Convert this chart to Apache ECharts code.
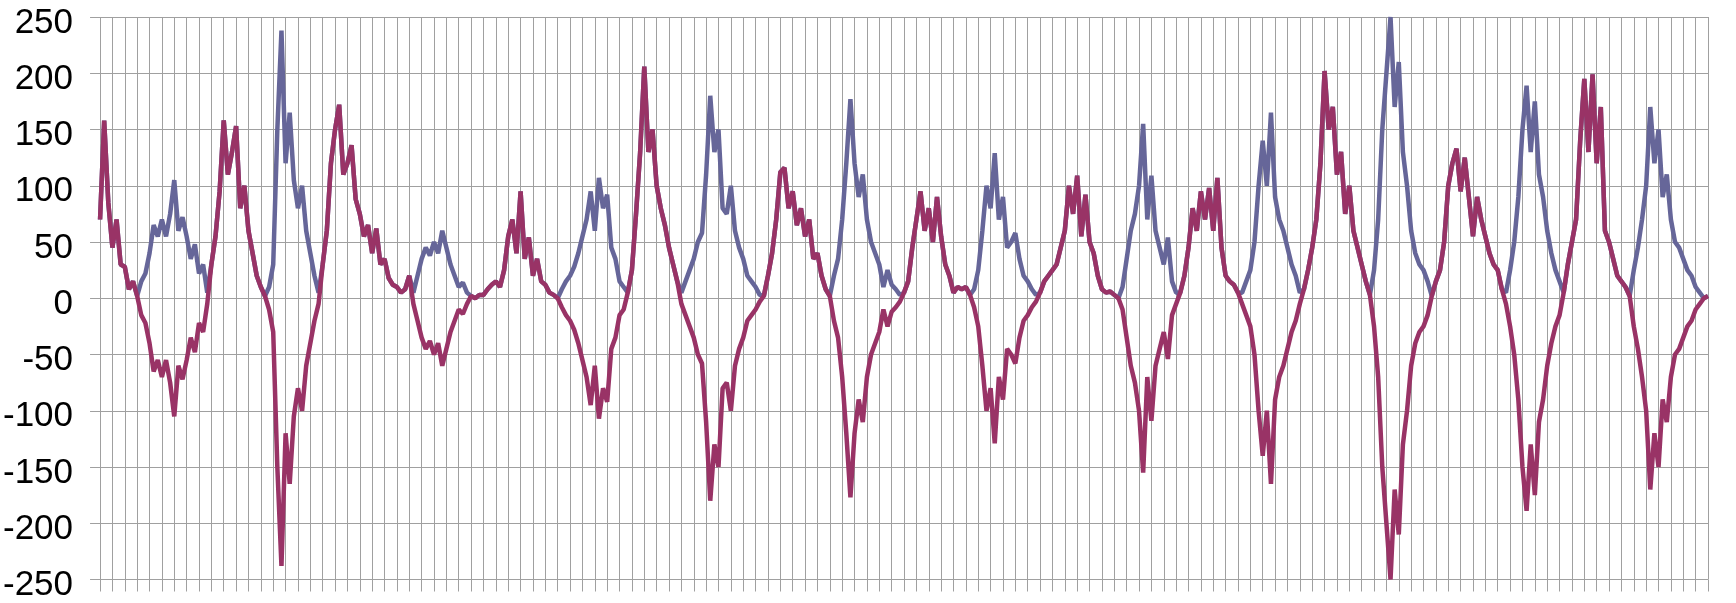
<!DOCTYPE html>
<html>
<head>
<meta charset="utf-8">
<script src="https://cdn.jsdelivr.net/npm/echarts@6/dist/echarts.min.js"></script>
<style>
html,body{margin:0;padding:0;background:#fff;}
#chart{width:1736px;height:603px;}
</style>
</head>
<body>
<div id="chart"></div>
<script>
// Series values (3 samples per gridline interval)
var seriesMagenta = [
70,158,85, 45,70,30, 28,8,15, 2,-15,-22, -40,-65,-55, -70,-55,-75, -105,-60,-72, -55,-35,-48, -22,-30,-5, 30,55,95,
158,110,130, 153,80,100, 60,40,20, 10,2,-10, -30,-150,-238, -120,-165,-105, -80,-100,-60, -40,-20,-5, 30,60,120, 150,172,110,
120,136,88, 75,55,65, 40,62,30, 35,18,12, 10,5,8, 20,-5,-20, -35,-45,-38, -50,-40,-60, -45,-30,-20, -10,-14,-5,
2,0,3, 3,8,12, 15,10,25, 55,70,40, 95,35,54, 20,35,15, 12,5,3, 0,-8,-15, -20,-28,-40, -55,-70,-95,
-60,-107,-80, -92,-45,-35, -15,-10,5, 25,75,130, 206,130,150, 100,80,65, 45,30,15, -5,-15,-25, -35,-50,-58, -110,-180,-130,
-150,-80,-75, -100,-60,-45, -35,-20,-15, -10,-3,2, 20,40,70, 112,116,80, 95,65,80, 55,70,35, 40,20,8, 2,-20,-35,
-70,-120,-177, -120,-90,-110, -70,-50,-40, -30,-10,-25, -12,-8,-3, 5,15,45, 70,95,60, 80,50,90, 55,30,20, 5,10,8,
10,3,-8, -25,-60,-100, -80,-129,-70, -90,-45,-50, -58,-35,-20, -15,-8,-3, 5,15,20, 25,30,45, 60,100,75, 109,55,92,
50,40,20, 8,5,6, 3,0,-10, -35,-60,-75, -100,-155,-70, -109,-60,-45, -30,-54,-15, -5,5,20, 45,80,60, 95,70,98,
60,107,45, 20,15,12, 5,-5,-15, -25,-50,-100, -140,-100,-165, -90,-70,-60, -45,-30,-20, -5,8,25, 45,70,120, 202,150,170,
110,130,75, 100,60,45, 30,15,3, -25,-70,-150, -200,-250,-170, -210,-130,-100, -60,-40,-30, -25,-15,2, 15,25,50, 100,120,133,
95,125,90, 55,90,70, 55,40,30, 25,8,-5, -25,-50,-90, -150,-189,-130, -175,-110,-90, -60,-40,-25, -15,5,30, 50,70,140,
195,130,199, 120,170,60, 50,35,20, 15,10,2, -25,-45,-70, -100,-170,-120, -150,-90,-110, -70,-50,-45, -35,-25,-20, -10,-5,0,
2
];
var seriesBlue = [
70,158,85, 45,70,30, 28,8,15, 2,15,22, 40,65,55, 70,55,75, 105,60,72, 55,35,48, 22,30,5, 30,55,95,
158,110,130, 153,80,100, 60,40,20, 10,2,10, 30,150,238, 120,165,105, 80,100,60, 40,20,5, 30,60,120, 150,172,110,
120,136,88, 75,55,65, 40,62,30, 35,18,12, 10,5,8, 20,5,20, 35,45,38, 50,40,60, 45,30,20, 10,14,5,
2,0,3, 3,8,12, 15,10,25, 55,70,40, 95,35,54, 20,35,15, 12,5,3, 0,8,15, 20,28,40, 55,70,95,
60,107,80, 92,45,35, 15,10,5, 25,75,130, 206,130,150, 100,80,65, 45,30,15, 5,15,25, 35,50,58, 110,180,130,
150,80,75, 100,60,45, 35,20,15, 10,3,2, 20,40,70, 112,116,80, 95,65,80, 55,70,35, 40,20,8, 2,20,35,
70,120,177, 120,90,110, 70,50,40, 30,10,25, 12,8,3, 5,15,45, 70,95,60, 80,50,90, 55,30,20, 5,10,8,
10,3,8, 25,60,100, 80,129,70, 90,45,50, 58,35,20, 15,8,3, 5,15,20, 25,30,45, 60,100,75, 109,55,92,
50,40,20, 8,5,6, 3,0,10, 35,60,75, 100,155,70, 109,60,45, 30,54,15, 5,5,20, 45,80,60, 95,70,98,
60,107,45, 20,15,12, 5,5,15, 25,50,100, 140,100,165, 90,70,60, 45,30,20, 5,8,25, 45,70,120, 202,150,170,
110,130,75, 100,60,45, 30,15,3, 25,70,150, 200,250,170, 210,130,100, 60,40,30, 25,15,2, 15,25,50, 100,120,133,
95,125,90, 55,90,70, 55,40,30, 25,8,5, 25,50,90, 150,189,130, 175,110,90, 60,40,25, 15,5,30, 50,70,140,
195,130,199, 120,170,60, 50,35,20, 15,10,2, 25,45,70, 100,170,120, 150,90,110, 70,50,45, 35,25,20, 10,5,0,
2
];
// Category indices for the samples
var categories = seriesMagenta.map(function (_, i) { return String(i + 1); });
// Y tick settings
var yMin = -250, yMax = 250, yStep = 50;
// Vertical gridline count
var gridIntervals = 130;

var chart = echarts.init(document.getElementById('chart'), null, {renderer: 'canvas'});
var gridColor = '#a0a0a0';
chart.setOption({
  animation: false,
  backgroundColor: '#ffffff',
  grid: {left: 100, right: 28, top: 17, bottom: 23, containLabel: false},
  xAxis: [
    {
      type: 'category', data: categories, boundaryGap: false, show: false
    },
    {
      type: 'value', min: 0, max: gridIntervals, interval: 1, position: 'bottom',
      axisLine: {show: false},
      axisTick: {show: true, length: 12, lineStyle: {color: gridColor, width: 1}},
      axisLabel: {show: false},
      splitLine: {show: true, lineStyle: {color: gridColor, width: 1}}
    }
  ],
  yAxis: {
    type: 'value', min: yMin, max: yMax, interval: yStep,
    axisLine: {show: false},
    axisTick: {show: true, length: 10, lineStyle: {color: gridColor, width: 1}},
    axisLabel: {
      margin: 27, color: '#000', fontSize: 35,
      fontFamily: "Liberation Sans, Arial, sans-serif",
      verticalAlign: 'top', lineHeight: 12
    },
    splitLine: {show: true, lineStyle: {color: gridColor, width: 1}}
  },
  series: [
    {
      type: 'line', xAxisIndex: 0, data: seriesBlue, showSymbol: false, symbol: 'none',
      lineStyle: {color: '#666699', width: 4.5}, z: 2
    },
    {
      type: 'line', xAxisIndex: 0, data: seriesMagenta, showSymbol: false, symbol: 'none',
      lineStyle: {color: '#993366', width: 4.5}, z: 3
    }
  ]
});
</script>
</body>
</html>
